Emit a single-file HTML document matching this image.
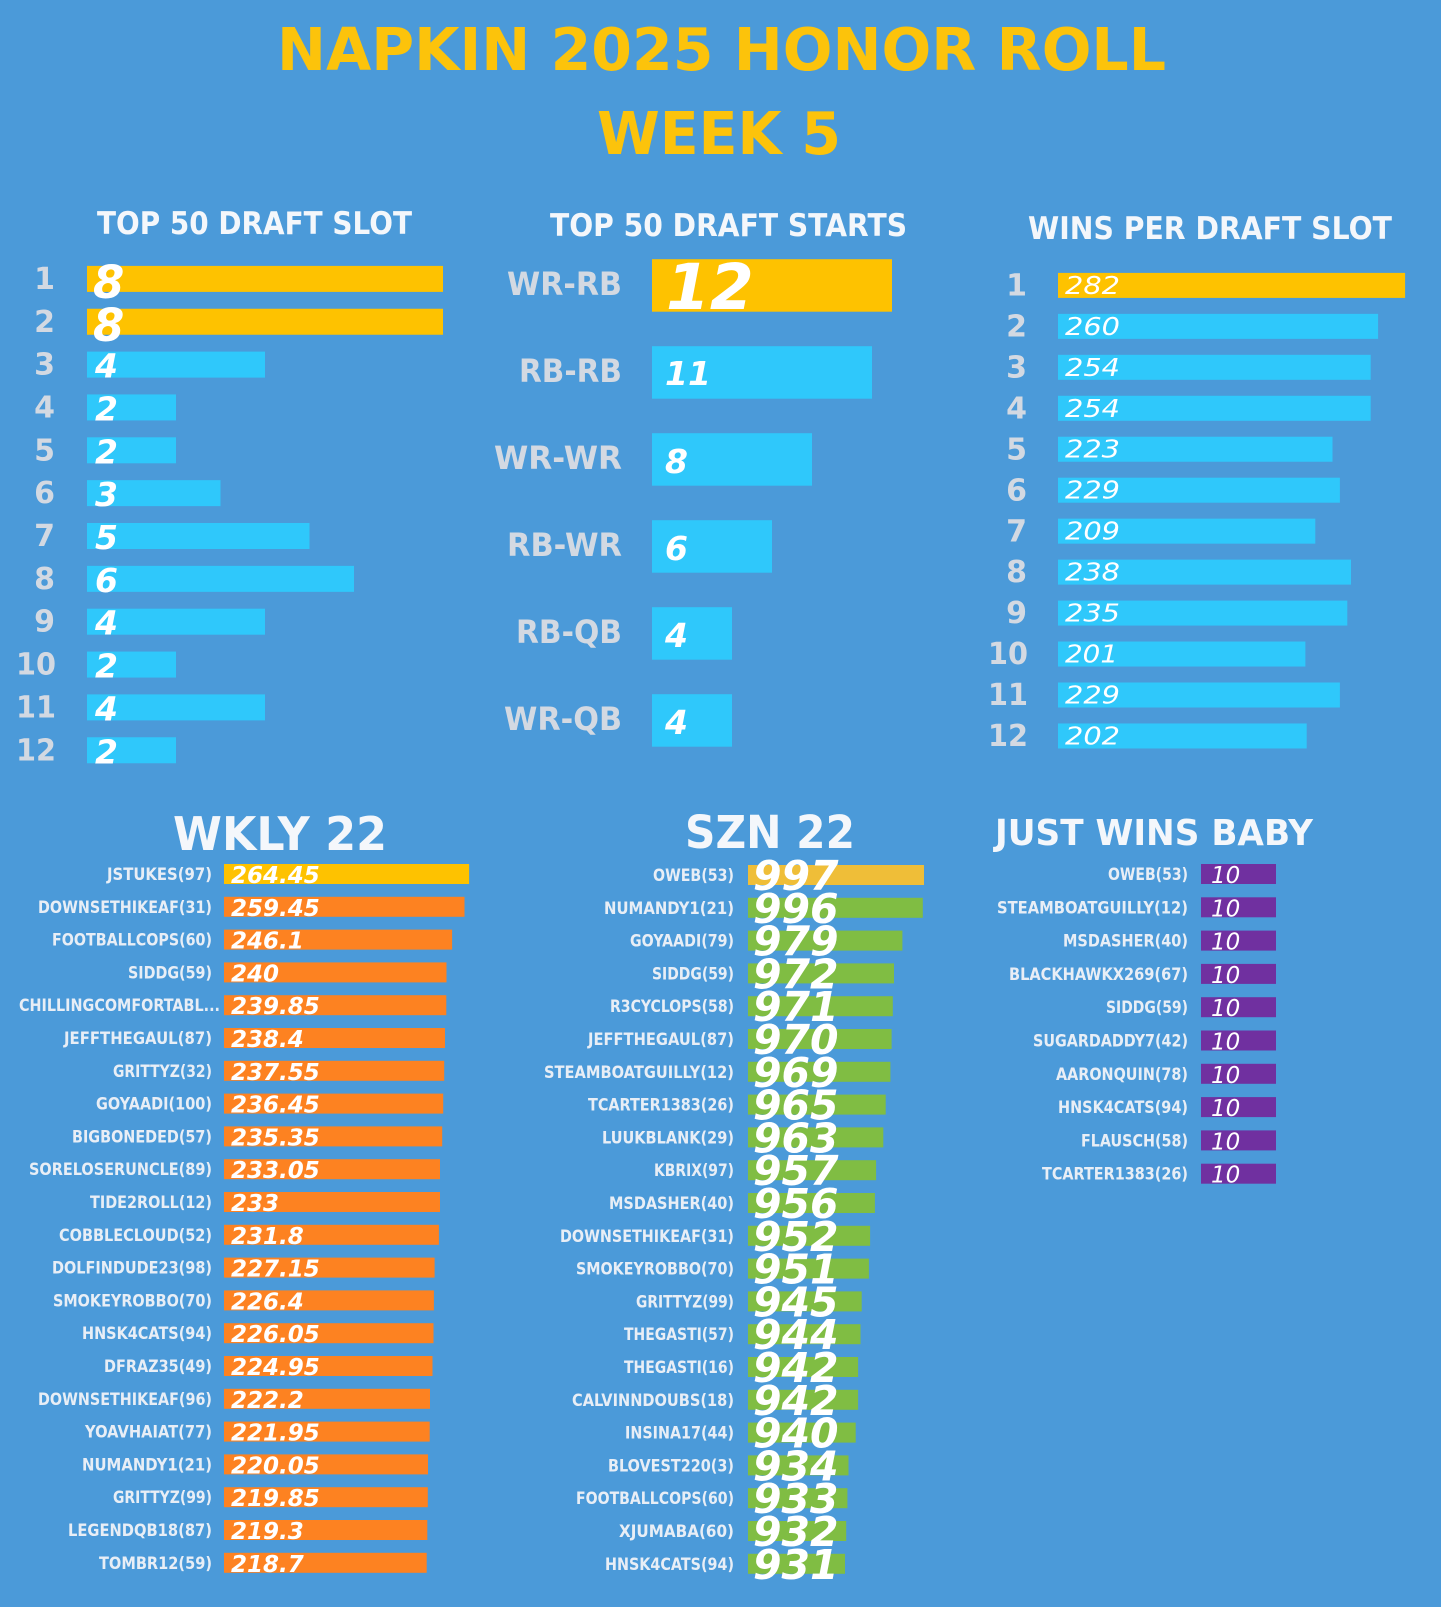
<!DOCTYPE html>
<html><head><meta charset="utf-8"><style>
html,body{margin:0;padding:0;background:#4b9ad9;}
svg{display:block}
.t{font-family:"DejaVu Sans","Liberation Sans",sans-serif;}
.ttl{font-size:59px;font-weight:bold;fill:#fcc30b;}
.hd{font-size:31px;font-weight:bold;fill:#f4f7fb;}
.rl{font-size:30px;font-weight:bold;fill:#d3d9e2;}
.ml{font-size:32px;font-weight:bold;fill:#d3d9e2;}
.vb{font-size:45px;font-weight:bold;font-style:italic;fill:#fff;}
.vs{font-size:33px;font-weight:bold;font-style:italic;fill:#fff;}
.vr{font-size:25px;font-style:italic;fill:#fff;}
.bh{font-weight:bold;fill:#f4f7fb;}
.nl{font-size:17px;font-weight:bold;fill:#e8eef6;}
.wv{font-size:23px;font-weight:bold;font-style:italic;fill:#fff;}
.sv{font-size:41px;font-weight:bold;font-style:italic;fill:#fff;}
.jv{font-size:23px;font-style:italic;fill:#fff;}
</style></head><body>
<svg width="1441" height="1607" viewBox="0 0 1441 1607" xmlns="http://www.w3.org/2000/svg">
<rect x="0" y="0" width="1441" height="1607" fill="#4b9ad9"/>
<g class="t">
<text class="t ttl" x="277" y="70" textLength="889" lengthAdjust="spacingAndGlyphs">NAPKIN 2025 HONOR ROLL</text>
<text class="t ttl" x="597" y="154" textLength="244" lengthAdjust="spacingAndGlyphs">WEEK 5</text>

<text class="t hd" x="97" y="234" textLength="315" lengthAdjust="spacingAndGlyphs">TOP 50 DRAFT SLOT</text>
<text class="t hd" x="550" y="236" textLength="357" lengthAdjust="spacingAndGlyphs">TOP 50 DRAFT STARTS</text>
<text class="t hd" x="1028" y="239" textLength="364" lengthAdjust="spacingAndGlyphs">WINS PER DRAFT SLOT</text>

<!-- TOP 50 DRAFT SLOT -->
<rect x="87" y="265.9" width="356" height="26" fill="#fec200"/>
<rect x="87" y="308.75" width="356" height="26" fill="#fec200"/>
<rect x="87" y="351.6" width="178" height="26" fill="#2fc8fb"/>
<rect x="87" y="394.45" width="89" height="26" fill="#2fc8fb"/>
<rect x="87" y="437.3" width="89" height="26" fill="#2fc8fb"/>
<rect x="87" y="480.15" width="133.5" height="26" fill="#2fc8fb"/>
<rect x="87" y="523" width="222.5" height="26" fill="#2fc8fb"/>
<rect x="87" y="565.85" width="267" height="26" fill="#2fc8fb"/>
<rect x="87" y="608.7" width="178" height="26" fill="#2fc8fb"/>
<rect x="87" y="651.55" width="89" height="26" fill="#2fc8fb"/>
<rect x="87" y="694.4" width="178" height="26" fill="#2fc8fb"/>
<rect x="87" y="737.25" width="89" height="26" fill="#2fc8fb"/>
<g text-anchor="end">
<text class="t rl" x="55" y="288.9">1</text>
<text class="t rl" x="55" y="331.75">2</text>
<text class="t rl" x="55" y="374.6">3</text>
<text class="t rl" x="55" y="417.45">4</text>
<text class="t rl" x="55" y="460.3">5</text>
<text class="t rl" x="55" y="503.15">6</text>
<text class="t rl" x="55" y="546">7</text>
<text class="t rl" x="55" y="588.85">8</text>
<text class="t rl" x="55" y="631.7">9</text>
<text class="t rl" x="56" y="674.55" textLength="40" lengthAdjust="spacingAndGlyphs">10</text>
<text class="t rl" x="56" y="717.4" textLength="40" lengthAdjust="spacingAndGlyphs">11</text>
<text class="t rl" x="56" y="760.25" textLength="40" lengthAdjust="spacingAndGlyphs">12</text>
</g>
<text class="t vb" x="93" y="297.9">8</text>
<text class="t vb" x="93" y="340.75">8</text>
<text class="t vs" x="95" y="377.6">4</text>
<text class="t vs" x="95" y="420.45">2</text>
<text class="t vs" x="95" y="463.3">2</text>
<text class="t vs" x="95" y="506.15">3</text>
<text class="t vs" x="95" y="549">5</text>
<text class="t vs" x="95" y="591.85">6</text>
<text class="t vs" x="95" y="634.7">4</text>
<text class="t vs" x="95" y="677.55">2</text>
<text class="t vs" x="95" y="720.4">4</text>
<text class="t vs" x="95" y="763.25">2</text>

<!-- TOP 50 DRAFT STARTS -->
<rect x="652" y="259.2" width="240" height="52.5" fill="#fec200"/>
<rect x="652" y="346.2" width="220" height="52.5" fill="#2fc8fb"/>
<rect x="652" y="433.2" width="160" height="52.5" fill="#2fc8fb"/>
<rect x="652" y="520.2" width="120" height="52.5" fill="#2fc8fb"/>
<rect x="652" y="607.2" width="80" height="52.5" fill="#2fc8fb"/>
<rect x="652" y="694.2" width="80" height="52.5" fill="#2fc8fb"/>
<g text-anchor="end">
<text class="t ml" x="622" y="295.2" textLength="115" lengthAdjust="spacingAndGlyphs">WR-RB</text>
<text class="t ml" x="622" y="382.2" textLength="103" lengthAdjust="spacingAndGlyphs">RB-RB</text>
<text class="t ml" x="622" y="469.2" textLength="128" lengthAdjust="spacingAndGlyphs">WR-WR</text>
<text class="t ml" x="622" y="556.2" textLength="115" lengthAdjust="spacingAndGlyphs">RB-WR</text>
<text class="t ml" x="622" y="643.2" textLength="106" lengthAdjust="spacingAndGlyphs">RB-QB</text>
<text class="t ml" x="622" y="730.2" textLength="118" lengthAdjust="spacingAndGlyphs">WR-QB</text>
</g>
<text class="t" x="666" y="309.2" style="font-size:63px;font-weight:bold;font-style:italic;fill:#fff">12</text>
<text class="t vs" x="665" y="385.2">11</text>
<text class="t vs" x="665" y="473.2">8</text>
<text class="t vs" x="665" y="560.2">6</text>
<text class="t vs" x="665" y="647.2">4</text>
<text class="t vs" x="665" y="734.2">4</text>

<!-- WINS PER DRAFT SLOT -->
<rect x="1058" y="272.9" width="347.1" height="25" fill="#fec200"/>
<rect x="1058" y="313.86" width="320.1" height="25" fill="#2fc8fb"/>
<rect x="1058" y="354.82" width="312.7" height="25" fill="#2fc8fb"/>
<rect x="1058" y="395.78" width="312.7" height="25" fill="#2fc8fb"/>
<rect x="1058" y="436.74" width="274.5" height="25" fill="#2fc8fb"/>
<rect x="1058" y="477.7" width="281.9" height="25" fill="#2fc8fb"/>
<rect x="1058" y="518.66" width="257.3" height="25" fill="#2fc8fb"/>
<rect x="1058" y="559.62" width="293" height="25" fill="#2fc8fb"/>
<rect x="1058" y="600.58" width="289.3" height="25" fill="#2fc8fb"/>
<rect x="1058" y="641.54" width="247.4" height="25" fill="#2fc8fb"/>
<rect x="1058" y="682.5" width="281.9" height="25" fill="#2fc8fb"/>
<rect x="1058" y="723.46" width="248.7" height="25" fill="#2fc8fb"/>
<g text-anchor="end">
<text class="t rl" x="1027" y="295.5">1</text>
<text class="t rl" x="1027" y="336.46">2</text>
<text class="t rl" x="1027" y="377.42">3</text>
<text class="t rl" x="1027" y="418.38">4</text>
<text class="t rl" x="1027" y="459.34">5</text>
<text class="t rl" x="1027" y="500.3">6</text>
<text class="t rl" x="1027" y="541.26">7</text>
<text class="t rl" x="1027" y="582.22">8</text>
<text class="t rl" x="1027" y="623.18">9</text>
<text class="t rl" x="1028" y="664.14" textLength="40" lengthAdjust="spacingAndGlyphs">10</text>
<text class="t rl" x="1028" y="705.1" textLength="40" lengthAdjust="spacingAndGlyphs">11</text>
<text class="t rl" x="1028" y="746.06" textLength="40" lengthAdjust="spacingAndGlyphs">12</text>
</g>
<g>
<text class="t vr" x="1065" y="293.9" textLength="55" lengthAdjust="spacingAndGlyphs">282</text>
<text class="t vr" x="1065" y="334.86" textLength="55" lengthAdjust="spacingAndGlyphs">260</text>
<text class="t vr" x="1065" y="375.82" textLength="55" lengthAdjust="spacingAndGlyphs">254</text>
<text class="t vr" x="1065" y="416.78" textLength="55" lengthAdjust="spacingAndGlyphs">254</text>
<text class="t vr" x="1065" y="457.74" textLength="55" lengthAdjust="spacingAndGlyphs">223</text>
<text class="t vr" x="1065" y="498.7" textLength="55" lengthAdjust="spacingAndGlyphs">229</text>
<text class="t vr" x="1065" y="539.66" textLength="55" lengthAdjust="spacingAndGlyphs">209</text>
<text class="t vr" x="1065" y="580.62" textLength="55" lengthAdjust="spacingAndGlyphs">238</text>
<text class="t vr" x="1065" y="621.58" textLength="55" lengthAdjust="spacingAndGlyphs">235</text>
<text class="t vr" x="1065" y="662.54" textLength="53" lengthAdjust="spacingAndGlyphs">201</text>
<text class="t vr" x="1065" y="703.5" textLength="55" lengthAdjust="spacingAndGlyphs">229</text>
<text class="t vr" x="1065" y="744.46" textLength="55" lengthAdjust="spacingAndGlyphs">202</text>
</g>

<!-- WKLY 22 -->
<text class="t bh" x="173" y="850" style="font-size:46px" textLength="214" lengthAdjust="spacingAndGlyphs">WKLY 22</text>
<rect x="224" y="864" width="245.1" height="20" fill="#fec200"/>
<rect x="224" y="896.8" width="240.5" height="20" fill="#fd8221"/>
<rect x="224" y="929.6" width="228.1" height="20" fill="#fd8221"/>
<rect x="224" y="962.4" width="222.5" height="20" fill="#fd8221"/>
<rect x="224" y="995.2" width="222.3" height="20" fill="#fd8221"/>
<rect x="224" y="1028" width="221" height="20" fill="#fd8221"/>
<rect x="224" y="1060.8" width="220.2" height="20" fill="#fd8221"/>
<rect x="224" y="1093.6" width="219.2" height="20" fill="#fd8221"/>
<rect x="224" y="1126.4" width="218.2" height="20" fill="#fd8221"/>
<rect x="224" y="1159.2" width="216" height="20" fill="#fd8221"/>
<rect x="224" y="1192" width="216" height="20" fill="#fd8221"/>
<rect x="224" y="1224.8" width="214.9" height="20" fill="#fd8221"/>
<rect x="224" y="1257.6" width="210.6" height="20" fill="#fd8221"/>
<rect x="224" y="1290.4" width="209.9" height="20" fill="#fd8221"/>
<rect x="224" y="1323.2" width="209.5" height="20" fill="#fd8221"/>
<rect x="224" y="1356" width="208.5" height="20" fill="#fd8221"/>
<rect x="224" y="1388.8" width="206" height="20" fill="#fd8221"/>
<rect x="224" y="1421.6" width="205.7" height="20" fill="#fd8221"/>
<rect x="224" y="1454.4" width="204" height="20" fill="#fd8221"/>
<rect x="224" y="1487.2" width="203.8" height="20" fill="#fd8221"/>
<rect x="224" y="1520" width="203.3" height="20" fill="#fd8221"/>
<rect x="224" y="1552.8" width="202.7" height="20" fill="#fd8221"/>
<g text-anchor="end">
<text class="t nl" x="212" y="880" textLength="105" lengthAdjust="spacingAndGlyphs">JSTUKES(97)</text>
<text class="t nl" x="212" y="912.8" textLength="174" lengthAdjust="spacingAndGlyphs">DOWNSETHIKEAF(31)</text>
<text class="t nl" x="212" y="945.6" textLength="160" lengthAdjust="spacingAndGlyphs">FOOTBALLCOPS(60)</text>
<text class="t nl" x="212" y="978.4" textLength="84" lengthAdjust="spacingAndGlyphs">SIDDG(59)</text>
<text class="t nl" x="220" y="1011.2" textLength="201" lengthAdjust="spacingAndGlyphs">CHILLINGCOMFORTABL...</text>
<text class="t nl" x="212" y="1044" textLength="148" lengthAdjust="spacingAndGlyphs">JEFFTHEGAUL(87)</text>
<text class="t nl" x="212" y="1076.8" textLength="99" lengthAdjust="spacingAndGlyphs">GRITTYZ(32)</text>
<text class="t nl" x="212" y="1109.6" textLength="116" lengthAdjust="spacingAndGlyphs">GOYAADI(100)</text>
<text class="t nl" x="212" y="1142.4" textLength="140" lengthAdjust="spacingAndGlyphs">BIGBONEDED(57)</text>
<text class="t nl" x="212" y="1175.2" textLength="183" lengthAdjust="spacingAndGlyphs">SORELOSERUNCLE(89)</text>
<text class="t nl" x="212" y="1208" textLength="122" lengthAdjust="spacingAndGlyphs">TIDE2ROLL(12)</text>
<text class="t nl" x="212" y="1240.8" textLength="153" lengthAdjust="spacingAndGlyphs">COBBLECLOUD(52)</text>
<text class="t nl" x="212" y="1273.6" textLength="160" lengthAdjust="spacingAndGlyphs">DOLFINDUDE23(98)</text>
<text class="t nl" x="212" y="1306.4" textLength="159" lengthAdjust="spacingAndGlyphs">SMOKEYROBBO(70)</text>
<text class="t nl" x="212" y="1339.2" textLength="130" lengthAdjust="spacingAndGlyphs">HNSK4CATS(94)</text>
<text class="t nl" x="212" y="1372" textLength="108" lengthAdjust="spacingAndGlyphs">DFRAZ35(49)</text>
<text class="t nl" x="212" y="1404.8" textLength="174" lengthAdjust="spacingAndGlyphs">DOWNSETHIKEAF(96)</text>
<text class="t nl" x="212" y="1437.6" textLength="127" lengthAdjust="spacingAndGlyphs">YOAVHAIAT(77)</text>
<text class="t nl" x="212" y="1470.4" textLength="130" lengthAdjust="spacingAndGlyphs">NUMANDY1(21)</text>
<text class="t nl" x="212" y="1503.2" textLength="99" lengthAdjust="spacingAndGlyphs">GRITTYZ(99)</text>
<text class="t nl" x="212" y="1536" textLength="144" lengthAdjust="spacingAndGlyphs">LEGENDQB18(87)</text>
<text class="t nl" x="212" y="1568.8" textLength="113" lengthAdjust="spacingAndGlyphs">TOMBR12(59)</text>
</g>
<text class="t wv" x="231" y="883">264.45</text>
<text class="t wv" x="231" y="915.8">259.45</text>
<text class="t wv" x="231" y="948.6">246.1</text>
<text class="t wv" x="231" y="981.4">240</text>
<text class="t wv" x="231" y="1014.2">239.85</text>
<text class="t wv" x="231" y="1047">238.4</text>
<text class="t wv" x="231" y="1079.8">237.55</text>
<text class="t wv" x="231" y="1112.6">236.45</text>
<text class="t wv" x="231" y="1145.4">235.35</text>
<text class="t wv" x="231" y="1178.2">233.05</text>
<text class="t wv" x="231" y="1211">233</text>
<text class="t wv" x="231" y="1243.8">231.8</text>
<text class="t wv" x="231" y="1276.6">227.15</text>
<text class="t wv" x="231" y="1309.4">226.4</text>
<text class="t wv" x="231" y="1342.2">226.05</text>
<text class="t wv" x="231" y="1375">224.95</text>
<text class="t wv" x="231" y="1407.8">222.2</text>
<text class="t wv" x="231" y="1440.6">221.95</text>
<text class="t wv" x="231" y="1473.4">220.05</text>
<text class="t wv" x="231" y="1506.2">219.85</text>
<text class="t wv" x="231" y="1539">219.3</text>
<text class="t wv" x="231" y="1571.8">218.7</text>

<!-- SZN 22 -->
<text class="t bh" x="685" y="848" style="font-size:45px" textLength="170" lengthAdjust="spacingAndGlyphs">SZN 22</text>
<rect x="748" y="865" width="176" height="20" fill="#efbe38"/>
<rect x="748" y="897.8" width="174.8" height="20" fill="#80bd43"/>
<rect x="748" y="930.6" width="154.4" height="20" fill="#80bd43"/>
<rect x="748" y="963.4" width="146" height="20" fill="#80bd43"/>
<rect x="748" y="996.2" width="144.8" height="20" fill="#80bd43"/>
<rect x="748" y="1029" width="143.6" height="20" fill="#80bd43"/>
<rect x="748" y="1061.8" width="142.4" height="20" fill="#80bd43"/>
<rect x="748" y="1094.6" width="137.7" height="20" fill="#80bd43"/>
<rect x="748" y="1127.4" width="135.3" height="20" fill="#80bd43"/>
<rect x="748" y="1160.2" width="128.1" height="20" fill="#80bd43"/>
<rect x="748" y="1193" width="126.9" height="20" fill="#80bd43"/>
<rect x="748" y="1225.8" width="122.1" height="20" fill="#80bd43"/>
<rect x="748" y="1258.6" width="120.9" height="20" fill="#80bd43"/>
<rect x="748" y="1291.4" width="113.7" height="20" fill="#80bd43"/>
<rect x="748" y="1324.2" width="112.5" height="20" fill="#80bd43"/>
<rect x="748" y="1357" width="110.1" height="20" fill="#80bd43"/>
<rect x="748" y="1389.8" width="110.1" height="20" fill="#80bd43"/>
<rect x="748" y="1422.6" width="107.7" height="20" fill="#80bd43"/>
<rect x="748" y="1455.4" width="100.5" height="20" fill="#80bd43"/>
<rect x="748" y="1488.2" width="99.4" height="20" fill="#80bd43"/>
<rect x="748" y="1521" width="98.2" height="20" fill="#80bd43"/>
<rect x="748" y="1553.8" width="97" height="20" fill="#80bd43"/>
<g text-anchor="end">
<text class="t nl" x="734" y="881" textLength="81" lengthAdjust="spacingAndGlyphs">OWEB(53)</text>
<text class="t nl" x="734" y="913.8" textLength="130" lengthAdjust="spacingAndGlyphs">NUMANDY1(21)</text>
<text class="t nl" x="734" y="946.6" textLength="104" lengthAdjust="spacingAndGlyphs">GOYAADI(79)</text>
<text class="t nl" x="734" y="979.4" textLength="82" lengthAdjust="spacingAndGlyphs">SIDDG(59)</text>
<text class="t nl" x="734" y="1012.2" textLength="124" lengthAdjust="spacingAndGlyphs">R3CYCLOPS(58)</text>
<text class="t nl" x="734" y="1045" textLength="146" lengthAdjust="spacingAndGlyphs">JEFFTHEGAUL(87)</text>
<text class="t nl" x="734" y="1077.8" textLength="190" lengthAdjust="spacingAndGlyphs">STEAMBOATGUILLY(12)</text>
<text class="t nl" x="734" y="1110.6" textLength="146" lengthAdjust="spacingAndGlyphs">TCARTER1383(26)</text>
<text class="t nl" x="734" y="1143.4" textLength="132" lengthAdjust="spacingAndGlyphs">LUUKBLANK(29)</text>
<text class="t nl" x="734" y="1176.2" textLength="80" lengthAdjust="spacingAndGlyphs">KBRIX(97)</text>
<text class="t nl" x="734" y="1209" textLength="125" lengthAdjust="spacingAndGlyphs">MSDASHER(40)</text>
<text class="t nl" x="734" y="1241.8" textLength="174" lengthAdjust="spacingAndGlyphs">DOWNSETHIKEAF(31)</text>
<text class="t nl" x="734" y="1274.6" textLength="158" lengthAdjust="spacingAndGlyphs">SMOKEYROBBO(70)</text>
<text class="t nl" x="734" y="1307.4" textLength="98" lengthAdjust="spacingAndGlyphs">GRITTYZ(99)</text>
<text class="t nl" x="734" y="1340.2" textLength="110" lengthAdjust="spacingAndGlyphs">THEGASTI(57)</text>
<text class="t nl" x="734" y="1373" textLength="110" lengthAdjust="spacingAndGlyphs">THEGASTI(16)</text>
<text class="t nl" x="734" y="1405.8" textLength="162" lengthAdjust="spacingAndGlyphs">CALVINNDOUBS(18)</text>
<text class="t nl" x="734" y="1438.6" textLength="109" lengthAdjust="spacingAndGlyphs">INSINA17(44)</text>
<text class="t nl" x="734" y="1471.4" textLength="126" lengthAdjust="spacingAndGlyphs">BLOVEST220(3)</text>
<text class="t nl" x="734" y="1504.2" textLength="158" lengthAdjust="spacingAndGlyphs">FOOTBALLCOPS(60)</text>
<text class="t nl" x="734" y="1537" textLength="115" lengthAdjust="spacingAndGlyphs">XJUMABA(60)</text>
<text class="t nl" x="734" y="1569.8" textLength="129" lengthAdjust="spacingAndGlyphs">HNSK4CATS(94)</text>
</g>
<text class="t sv" x="753" y="890">997</text>
<text class="t sv" x="753" y="922.8">996</text>
<text class="t sv" x="753" y="955.6">979</text>
<text class="t sv" x="753" y="988.4">972</text>
<text class="t sv" x="753" y="1021.2">971</text>
<text class="t sv" x="753" y="1054">970</text>
<text class="t sv" x="753" y="1086.8">969</text>
<text class="t sv" x="753" y="1119.6">965</text>
<text class="t sv" x="753" y="1152.4">963</text>
<text class="t sv" x="753" y="1185.2">957</text>
<text class="t sv" x="753" y="1218">956</text>
<text class="t sv" x="753" y="1250.8">952</text>
<text class="t sv" x="753" y="1283.6">951</text>
<text class="t sv" x="753" y="1316.4">945</text>
<text class="t sv" x="753" y="1349.2">944</text>
<text class="t sv" x="753" y="1382">942</text>
<text class="t sv" x="753" y="1414.8">942</text>
<text class="t sv" x="753" y="1447.6">940</text>
<text class="t sv" x="753" y="1480.4">934</text>
<text class="t sv" x="753" y="1513.2">933</text>
<text class="t sv" x="753" y="1546">932</text>
<text class="t sv" x="753" y="1578.8">931</text>

<!-- JUST WINS BABY -->
<text class="t bh" x="995" y="845" style="font-size:36px" textLength="318" lengthAdjust="spacingAndGlyphs">JUST WINS BABY</text>
<rect x="1201" y="864" width="75" height="20" fill="#7030a0"/>
<rect x="1201" y="897.3" width="75" height="20" fill="#7030a0"/>
<rect x="1201" y="930.6" width="75" height="20" fill="#7030a0"/>
<rect x="1201" y="963.9" width="75" height="20" fill="#7030a0"/>
<rect x="1201" y="997.2" width="75" height="20" fill="#7030a0"/>
<rect x="1201" y="1030.5" width="75" height="20" fill="#7030a0"/>
<rect x="1201" y="1063.8" width="75" height="20" fill="#7030a0"/>
<rect x="1201" y="1097.1" width="75" height="20" fill="#7030a0"/>
<rect x="1201" y="1130.4" width="75" height="20" fill="#7030a0"/>
<rect x="1201" y="1163.7" width="75" height="20" fill="#7030a0"/>
<g text-anchor="end">
<text class="t nl" x="1188" y="880" textLength="80" lengthAdjust="spacingAndGlyphs">OWEB(53)</text>
<text class="t nl" x="1188" y="913.3" textLength="191" lengthAdjust="spacingAndGlyphs">STEAMBOATGUILLY(12)</text>
<text class="t nl" x="1188" y="946.6" textLength="125" lengthAdjust="spacingAndGlyphs">MSDASHER(40)</text>
<text class="t nl" x="1188" y="979.9" textLength="179" lengthAdjust="spacingAndGlyphs">BLACKHAWKX269(67)</text>
<text class="t nl" x="1188" y="1013.2" textLength="82" lengthAdjust="spacingAndGlyphs">SIDDG(59)</text>
<text class="t nl" x="1188" y="1046.5" textLength="155" lengthAdjust="spacingAndGlyphs">SUGARDADDY7(42)</text>
<text class="t nl" x="1188" y="1079.8" textLength="132" lengthAdjust="spacingAndGlyphs">AARONQUIN(78)</text>
<text class="t nl" x="1188" y="1113.1" textLength="130" lengthAdjust="spacingAndGlyphs">HNSK4CATS(94)</text>
<text class="t nl" x="1188" y="1146.4" textLength="107" lengthAdjust="spacingAndGlyphs">FLAUSCH(58)</text>
<text class="t nl" x="1188" y="1179.7" textLength="146" lengthAdjust="spacingAndGlyphs">TCARTER1383(26)</text>
</g>
<text class="t jv" x="1211" y="883">10</text>
<text class="t jv" x="1211" y="916.3">10</text>
<text class="t jv" x="1211" y="949.6">10</text>
<text class="t jv" x="1211" y="982.9">10</text>
<text class="t jv" x="1211" y="1016.2">10</text>
<text class="t jv" x="1211" y="1049.5">10</text>
<text class="t jv" x="1211" y="1082.8">10</text>
<text class="t jv" x="1211" y="1116.1">10</text>
<text class="t jv" x="1211" y="1149.4">10</text>
<text class="t jv" x="1211" y="1182.7">10</text>
</g>
</svg>
</body></html>
